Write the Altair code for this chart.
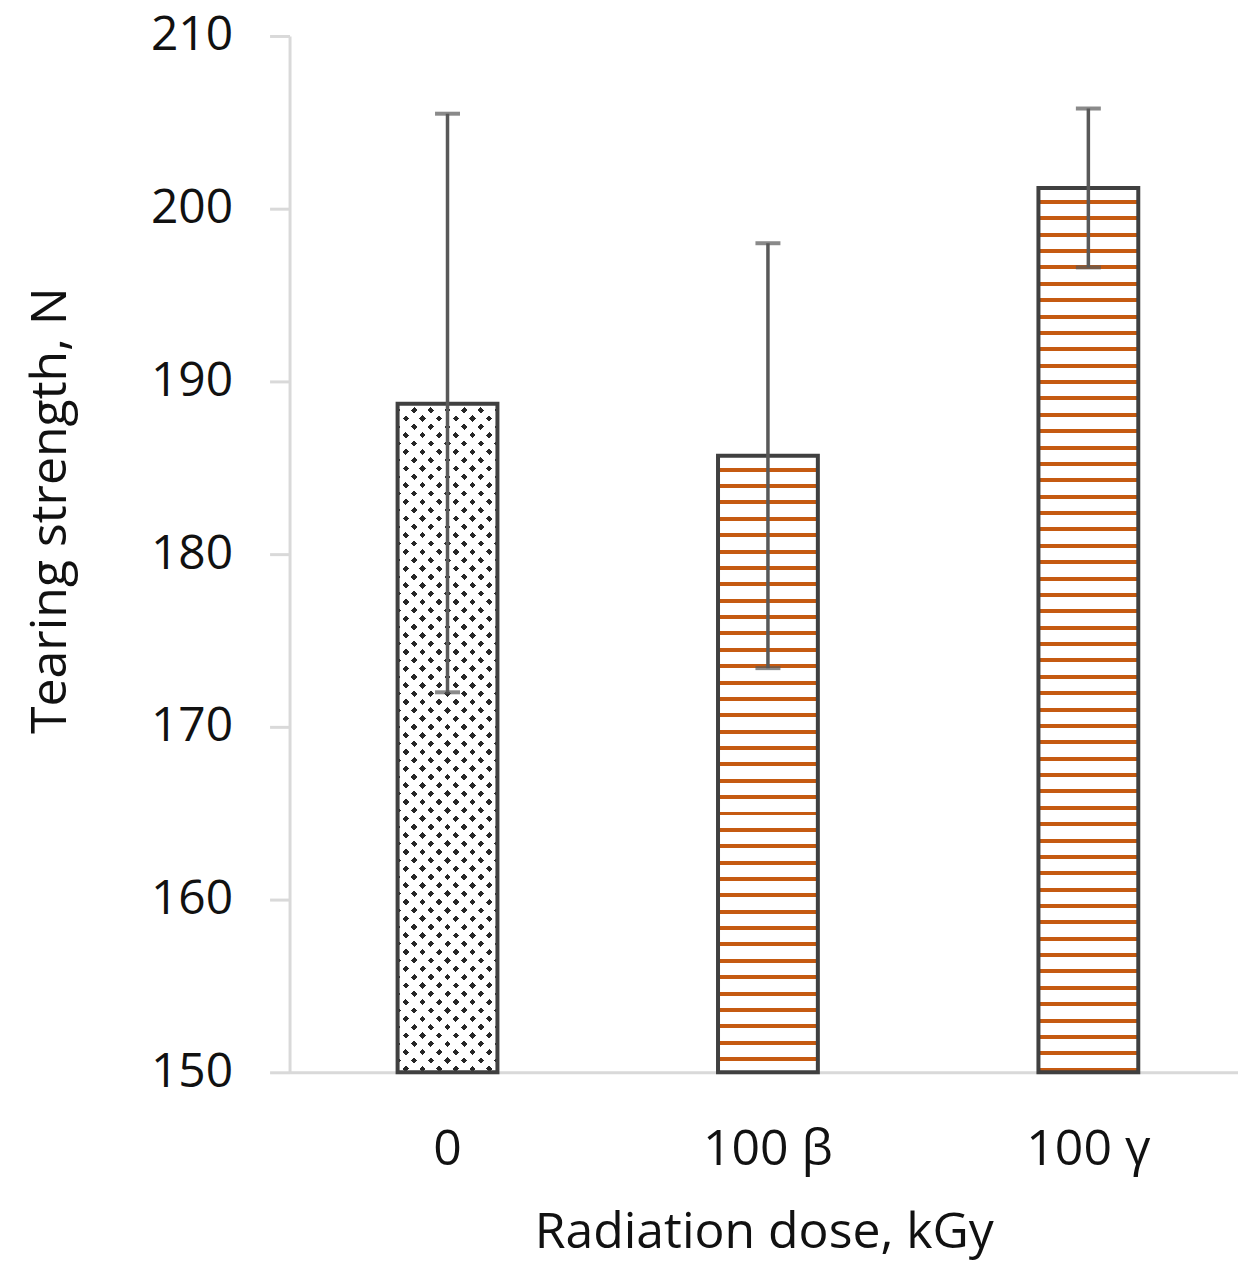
import altair as alt
import pandas as pd

categories = ["0", "100 β", "100 γ"]
means = [188.7, 185.7, 201.2]
err_hi = [205.5, 198.0, 205.8]
err_lo = [172.0, 173.4, 196.6]

df = pd.DataFrame({"dose": categories, "mean": means, "hi": err_hi, "lo": err_lo})

Y0, Y1 = 150, 210
W, H = 950, 1038
PX_PER_UNIT = H / (Y1 - Y0)
BAR_W = 100

ORANGE = "#c55a11"
EDGE = "#404040"
ERR = "#595959"
FONT = "Open Sans"
FS = 50


def stop_list(length, period, thick, color, bg, phase):
    stops = [alt.GradientStop(offset=0, color=bg)]
    p = phase
    while p < length:
        a = p / length
        b = min((p + thick) / length, 1.0)
        stops += [
            alt.GradientStop(offset=a, color=bg),
            alt.GradientStop(offset=a, color=color),
            alt.GradientStop(offset=b, color=color),
            alt.GradientStop(offset=b, color=bg),
        ]
        p += period
    stops.append(alt.GradientStop(offset=1, color=bg))
    return stops


def h_stripes(height, period, thick, color, bg, phase):
    return alt.LinearGradient(gradient="linear", stops=stop_list(height, period, thick, color, bg, phase),
                              x1=0, x2=0, y1=0, y2=1)


def diag_stripes(w, h, period, thick, color, bg, phase, flip):
    # stripes along lines of constant (x + y) (or (w - x) + y), in pixel space
    k = (w + h) / (w * w + h * h)
    stops = stop_list(w + h, period, thick, color, bg, phase)
    if flip:
        return alt.LinearGradient(gradient="linear", stops=stops, x1=1, y1=0, x2=1 - k * w, y2=k * h)
    return alt.LinearGradient(gradient="linear", stops=stops, x1=0, y1=0, x2=k * w, y2=k * h)


x_enc = alt.X(
    "dose:N",
    sort=categories,
    scale=alt.Scale(paddingInner=0.69, paddingOuter=0.325, align=0.52),
    axis=alt.Axis(
        title="Radiation dose, kGy",
        labelAngle=0,
        ticks=False,
        domainColor="#d9d9d9",
        domainWidth=3,
        labelFont=FONT,
        labelFontSize=FS,
        labelColor="#111111",
        labelPadding=52,
        titleFont=FONT,
        titleFontSize=FS,
        titleFontWeight="normal",
        titleColor="#111111",
        titlePadding=33,
    ),
)
y_scale = alt.Scale(domain=[Y0, Y1], nice=False, zero=False)
y_enc = alt.Y(
    "mean:Q",
    scale=y_scale,
    axis=alt.Axis(
        title="Tearing strength, N",
        values=[150, 160, 170, 180, 190, 200, 210],
        grid=False,
        tickSize=20,
        tickWidth=3,
        tickColor="#d9d9d9",
        domainColor="#d9d9d9",
        domainWidth=3,
        labelFont=FONT,
        labelFontSize=48,
        labelColor="#111111",
        labelPadding=37,
        titleFont=FONT,
        titleFontSize=FS,
        titleFontWeight="normal",
        titleColor="#111111",
        titleX=-214,
        titleY=475,
    ),
)

base = alt.Chart(df)
layers = []

# bar "0": staggered dot pattern from two crossed diagonal stripe fills
h0 = (means[0] - Y0) * PX_PER_UNIT
dots_a = diag_stripes(BAR_W, h0, 16.7, 6.5, "#262626", "#ffffff", 3, False)
dots_b = diag_stripes(BAR_W, h0, 16.7, 6.5, "rgba(255,255,255,0)", "#ffffff", 3, True)
f0 = alt.datum.dose == categories[0]
layers.append(
    base.transform_filter(f0).mark_bar(width=BAR_W, fill=dots_a, strokeWidth=0)
    .encode(x=x_enc, y=y_enc, y2=alt.datum(Y0))
)
layers.append(
    base.transform_filter(f0).mark_bar(width=BAR_W, fill=dots_b, strokeWidth=0)
    .encode(x=x_enc, y=y_enc, y2=alt.datum(Y0))
)

# orange striped bars
for i in (1, 2):
    hi_px = (means[i] - Y0) * PX_PER_UNIT
    g = h_stripes(hi_px, 16.4, 4, ORANGE, "#ffffff", 12)
    layers.append(
        base.transform_filter(alt.datum.dose == categories[i])
        .mark_bar(width=BAR_W, fill=g, strokeWidth=0)
        .encode(x=x_enc, y=y_enc, y2=alt.datum(Y0))
    )

# outlines
layers.append(
    base.mark_bar(width=BAR_W, fill="transparent", stroke=EDGE, strokeWidth=4)
    .encode(x=x_enc, y=y_enc, y2=alt.datum(Y0))
)

# error bars
layers.append(
    base.mark_rule(color=ERR, strokeWidth=3.5).encode(
        x=x_enc, y=alt.Y("lo:Q", scale=y_scale), y2="hi:Q"
    )
)
layers.append(
    base.mark_tick(color=ERR, thickness=4, size=25).encode(x=x_enc, y=alt.Y("lo:Q", scale=y_scale))
)
layers.append(
    base.mark_tick(color=ERR, thickness=4, size=25).encode(x=x_enc, y=alt.Y("hi:Q", scale=y_scale))
)

chart = (
    alt.layer(*layers)
    .properties(
        width=W,
        height=H,
        autosize=alt.AutoSizeParams(type="none"),
        padding={"left": 282, "top": 27, "right": 0, "bottom": 188},
        background="white",
    )
    .configure_view(stroke=None)
)

chart.save("out.html", embed_options={"renderer": "svg", "actions": False})
